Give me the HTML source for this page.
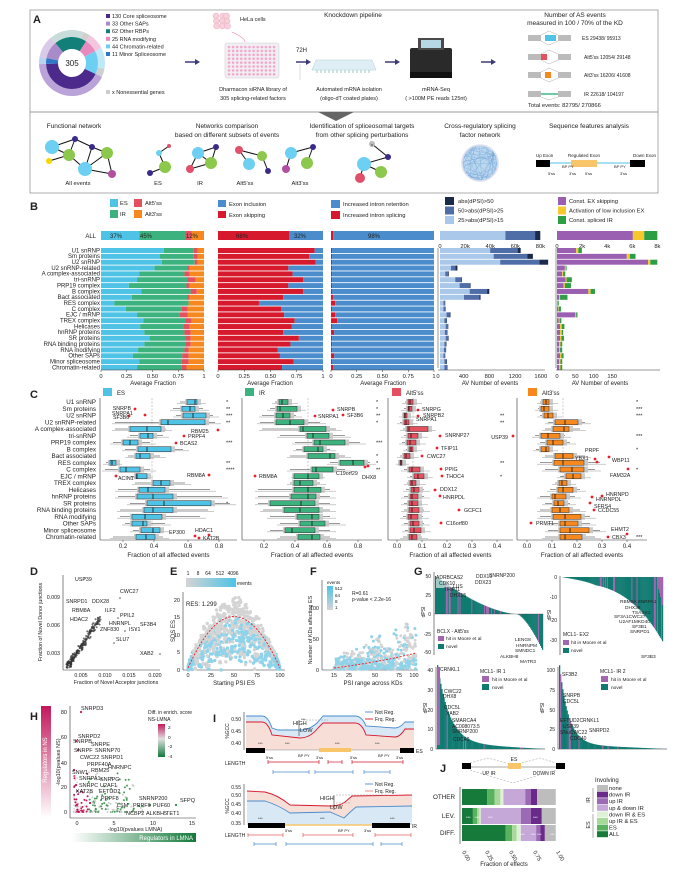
<!DOCTYPE html>
<html><head><meta charset="utf-8"><style>
html,body{margin:0;padding:0;background:#fff;}
svg{display:block;font-family:"Liberation Sans",sans-serif;}
</style></head><body>
<svg id="s" width="676" height="878" viewBox="0 0 676 878" xmlns="http://www.w3.org/2000/svg">
<rect width="676" height="878" fill="#fff"/>
<defs>
<linearGradient id="gE" x1="0" x2="1"><stop offset="0" stop-color="#d4d4d4"/><stop offset="1" stop-color="#4ec3e6"/></linearGradient>
<linearGradient id="gF" x1="0" x2="0" y1="0" y2="1"><stop offset="0" stop-color="#4ec3e6"/><stop offset="1" stop-color="#d4d4d4"/></linearGradient>
<linearGradient id="gH" x1="0" x2="0" y1="0" y2="1"><stop offset="0" stop-color="#c2185b"/><stop offset="1" stop-color="#fff"/></linearGradient>
<linearGradient id="gL" x1="0" x2="1"><stop offset="0" stop-color="#fff"/><stop offset="1" stop-color="#137a3a"/></linearGradient>
<linearGradient id="gC" x1="0" x2="0" y1="0" y2="1"><stop offset="0" stop-color="#c2185b"/><stop offset="0.45" stop-color="#e0e0e0"/><stop offset="1" stop-color="#137a3a"/></linearGradient>
</defs>
</svg>
<script>
const ns="http://www.w3.org/2000/svg",S=document.getElementById('s');
function E(t,a,txt){const e=document.createElementNS(ns,t);for(const k in a)e.setAttribute(k,a[k]);if(txt!=null)e.textContent=txt;S.appendChild(e);return e;}
function R(x,y,w,h,f,o){return E('rect',Object.assign({x,y,width:w,height:h,fill:f},o||{}));}
function L(x1,y1,x2,y2,c,w,o){return E('line',Object.assign({x1,y1,x2,y2,stroke:c||'#333','stroke-width':w||0.6},o||{}));}
function T(x,y,s,fs,o){return E('text',Object.assign({x,y,'font-size':fs||6,fill:'#222'},o||{}),s);}
function C(cx,cy,r,f,o){return E('circle',Object.assign({cx,cy,r,fill:f},o||{}));}
function P(d,o){return E('path',Object.assign({d},o||{}));}
let seed=7;function rnd(){seed=(seed*16807)%2147483647;return seed/2147483647;}

/* ---------- Panel A ---------- */
R(30,10,628,102,'none',{stroke:'#999','stroke-width':0.8});
R(30,112,628,81,'none',{stroke:'#999','stroke-width':0.8});
P('M318 112 L354 112 L336 121 Z',{fill:'#666'});
T(33,23,'A',11,{'font-weight':'bold'});
function arc(cx,cy,r1,r2,a1,a2,f){const q=(r,a)=>[cx+r*Math.cos((a-90)*Math.PI/180),cy+r*Math.sin((a-90)*Math.PI/180)];
const [x1,y1]=q(r2,a1),[x2,y2]=q(r2,a2),[x3,y3]=q(r1,a2),[x4,y4]=q(r1,a1);const lg=(a2-a1)>180?1:0;
P(`M${x1} ${y1} A${r2} ${r2} 0 ${lg} 1 ${x2} ${y2} L${x3} ${y3} A${r1} ${r1} 0 ${lg} 0 ${x4} ${y4} Z`,{fill:f});}
const seg=[['#127f78',-40,33],['#e88ac0',33,63],['#6dd0f2',63,115],['#4b2a8c',115,268],['#2f78c8',268,281],['#a98bc9',281,320]];
const segO=[['#c8dcd9',-40,20],['#d0d0d0',20,33],['#f4c6de',33,63],['#bfe8f8',63,100],['#d0d0d0',100,115],['#b9a3d8',115,268],['#bcd1ee',268,281],['#d9cbe8',281,320]];
segO.forEach(s=>arc(72,63,26,33,s[1],s[2],s[0]));
seg.forEach(s=>arc(72,63,14,26,s[1],s[2],s[0]));
T(72,66,'305',8,{'text-anchor':'middle'});
[['#4b2a8c','130 Core spliceosome'],['#a98bc9','33 Other SAPs'],['#127f78','62 Other RBPs'],['#e88ac0','25 RNA modifying'],['#6dd0f2','44 Chromatin-related'],['#2f78c8','11 Minor Spliceosome']].forEach((d,i)=>{R(106,14+i*7.6,4,4,d[0]);T(112,18+i*7.6,d[1],5.5);});
R(106,90,4,4,'#ccc');T(112,94,'x Nonessential genes',5.5);
for(let i=0;i<9;i++)C(216+(i%3)*5+rnd()*2,16+Math.floor(i/3)*5,3,'#f7d0dc',{stroke:'#e89ab2','stroke-width':0.4});
T(240,21,'HeLa cells',5.5);
P('M232 32 Q245 38 245 42',{fill:'none',stroke:'#e8789a','stroke-width':0.6});
R(225,43,54,35,'#f1eef5',{stroke:'#ccc','stroke-width':0.5,rx:2});
for(let r=0;r<8;r++)for(let c=0;c<12;c++)C(229+c*4.1,47+r*3.9,1.3,'#f4a9c8');
T(253,91,'Dharmacon siRNA library of',5.5,{'text-anchor':'middle'});T(253,100,'305  splicing-related factors',5.5,{'text-anchor':'middle'});
function arrow(x,y){P(`M${x} ${y-0.8} L${x+10} ${y-0.8} L${x+10} ${y-3} L${x+15} ${y} L${x+10} ${y+3} L${x+10} ${y+0.8} L${x} ${y+0.8} Z`,{fill:'#3b3a78'});}
arrow(185,62);arrow(296,62);arrow(385,62);arrow(481,62);
T(296,52,'72H',6);L(300,64,300,80,'#aaa',0.4);
T(353,17,'Knockdown  pipeline',6.5,{'text-anchor':'middle'});
P('M316 60 L372 60 L376 70 L312 70 Z',{fill:'#dfeef5',stroke:'#9cc','stroke-width':0.4});
for(let c=0;c<14;c++)L(317+c*4,70,317+c*4,73,'#8bb',0.8);
T(349,91,'Automated mRNA isolation',5.5,{'text-anchor':'middle'});T(349,100,'(oligo-dT coated plates)',5.5,{'text-anchor':'middle'});
R(410,48,42,30,'#2a2a2a',{rx:2});R(418,38,26,12,'#4a4a4a');R(421,40,20,8,'#b8d7e6');R(410,72,42,6,'#111');
T(436,91,'mRNA-Seq',5.5,{'text-anchor':'middle'});T(436,100,'( >100M PE reads 125nt)',5.5,{'text-anchor':'middle'});
T(575,17,'Number of AS events',6.5,{'text-anchor':'middle'});T(575,25,'measured in 100 / 70% of the KD',6.5,{'text-anchor':'middle'});
function ev(y,col,type){R(528,y-3,13,6,'#bbb');R(558,y-3,13,6,'#bbb');
 if(type=='IR'){L(541,y,558,y,'#3cb88a',1.5);P(`M541 ${y+3} L549 ${y+6} L558 ${y+3}`,{fill:'none',stroke:'#999','stroke-width':0.4});}
 else{const a=type=='ES'?545:541;R(a+(type=='3'?4:0),y-3,type=='ES'?11:6,6,col);
 P(`M541 ${y-3} L549 ${y-7} L558 ${y-3}`,{fill:'none',stroke:'#999','stroke-width':0.4});P(`M541 ${y+3} L549 ${y+7} L558 ${y+3}`,{fill:'none',stroke:'#999','stroke-width':0.4});}}
ev(38,'#4ec3e6','ES');ev(57,'#e5505f','5');ev(75,'#f5891f','3');ev(94,'#3cb88a','IR');
T(582,40,'ES  29438/ 95913',5);T(584,59,"Alt5'ss 12054/ 29148",5);T(584,77,"Alt3'ss 16206/ 41608",5);T(584,96,'IR  22618/ 104197',5);
T(528,107,'Total events:     82795/ 270866',5.8);
T(74,128,'Functional network',6.5,{'text-anchor':'middle'});
T(227,128,'Networks comparison',6.5,{'text-anchor':'middle'});T(227,137,'based on different subsets of events',6.5,{'text-anchor':'middle'});
T(362,128,'Identification of spliceosomal targets',6.5,{'text-anchor':'middle'});T(362,137,'from other splicing perturbations',6.5,{'text-anchor':'middle'});
T(480,128,'Cross-regulatory splicing',6.5,{'text-anchor':'middle'});T(480,137,'factor network',6.5,{'text-anchor':'middle'});
T(589,128,'Sequence features analysis',6.5,{'text-anchor':'middle'});
const B='#6dd0f2',G='#8cc84b',N='#3b2a8c',Rd='#e0506a',Pu='#b14fa0';
function net(nodes,edges){edges.forEach(e=>L(nodes[e[0]][0],nodes[e[0]][1],nodes[e[1]][0],nodes[e[1]][1],'#111',1));nodes.forEach(n=>C(n[0],n[1],n[2],n[3]));}
net([[52,147,7,B],[75,139,3,N],[92,147,3,N],[69,155,6,G],[107,153,6,G],[49,161,3,'#f5d800'],[85,169,7,B],[112,174,4,Pu]],[[0,1],[1,2],[0,3],[3,5],[2,4],[2,6],[3,6],[4,6],[6,7],[4,7],[1,3]]);
T(78,185,'All events',5.8,{'text-anchor':'middle'});
net([[150,173,3,N],[159,153,3,B],[169,146,2,Rd],[165,167,6,G]],[[0,3],[1,3],[1,2]]);T(158,185,'ES',5.8,{'text-anchor':'middle'});
net([[198,153,6,B],[216,147,3,N],[190,169,4,Rd],[211,163,6,G]],[[0,1],[1,3],[0,3],[2,3],[0,2]]);T(200,185,'IR',5.8,{'text-anchor':'middle'});
net([[239,150,4,Rd],[249,164,6,B],[262,156,5,G],[268,171,3,N]],[[0,2],[2,3],[0,1]]);T(245,185,"Alt5'ss",5.8,{'text-anchor':'middle'});
net([[291,153,6,B],[313,147,3,N],[307,163,6,G],[286,169,4,Pu]],[[0,1],[1,2],[0,3]]);T(300,185,"Alt3'ss",5.8,{'text-anchor':'middle'});
net([[372,144,3,'#bbb'],[388,157,3,N],[364,164,7,B],[381,172,6,G],[360,178,5,Rd]],[[0,1],[1,2],[2,3],[2,4]]);T(372,146,'x',4,{'text-anchor':'middle'});
C(480,163,18,'#bcd8ef',{stroke:'#dde','stroke-width':1.5});
for(let i=0;i<60;i++){const a=rnd()*6.28,b=rnd()*6.28;L(480+17*Math.cos(a),163+17*Math.sin(a),480+17*Math.cos(b),163+17*Math.sin(b),'#6a9fd4',0.25);}
L(550,163,630,163,'#4ec3e6',1);R(536,160,14,7,'#000');R(630,160,15,7,'#000');R(571,160,26,7,'#f8c56a');
T(536,157,'Up Exon',4.5);T(584,157,'Regulated Exon',4.5,{'text-anchor':'middle'});T(633,157,'Down Exon',4.5);
T(548,175,"5'ss",4);T(562,168,'BP PY',4);T(569,175,"3'ss",4);T(585,175,"5'ss",4);T(614,168,'BP PY',4);T(620,175,"3'ss",4);

/* ---------- Panel B ---------- */
T(30,210,'B',11,{'font-weight':'bold'});
R(110,199,8,8,'#4ec3e6');T(120,205,'ES',5.8);R(134,199,8,8,'#e5505f');T(145,205,"Alt5'ss",5.8);
R(110,210,8,8,'#3cb37e');T(120,216,'IR',5.8);R(134,210,8,8,'#f5891f');T(145,216,"Alt3'ss",5.8);
R(218,200,8,7,'#4a8ccc');T(229,206,'Exon inclusion',5.8);R(218,211,8,7,'#d7192d');T(229,217,'Exon skipping',5.8);
R(331,200,9,8,'#4a8ccc');T(343,206,'Increased intron retention',5.8);R(331,211,9,8,'#d7192d');T(343,217,'Increased intron splicing',5.8);
[['#1c2a4a','abs(dPSI)>50'],['#4f6ea8','50>abs(dPSI)>25'],['#a9c8ea','25>abs(dPSI)>15']].forEach((d,i)=>{R(445,197+i*9.5,9,8,d[0]);T(458,203+i*9.5,d[1],5.8);});
[['#9a5fb0','Const. EX skipping'],['#f7c82b','Activation of low inclusion EX'],['#2e9e44','Const. spliced IR']].forEach((d,i)=>{R(558,197+i*9.5,8,8,d[0]);T(569,203+i*9.5,d[1],5.8);});
const cats=['U1 snRNP','Sm proteins','U2 snRNP','U2 snRNP-related','A complex-associated','tri-snRNP','PRP19 complex','B complex','Bact associated','RES complex','C complex','EJC / mRNP','TREX complex','Helicases','hnRNP proteins','SR proteins','RNA binding proteins','RNA modifying','Other SAPs','Minor spliceosome','Chromatin-related'];
const ry=i=>248+i*5.85;
T(96,238,'ALL',6,{'text-anchor':'end'});
cats.forEach((c,i)=>T(100,ry(i)+4.3,c,6,{'text-anchor':'end'}));
const c1=[[.61,.90,.94],[.57,.90,.94],[.59,.91,.94],[.52,.84,.86],[.37,.81,.86],[.35,.84,.92],[.27,.83,.86],[.39,.87,.93],[.30,.84,.86],[.13,.85,.85],[.24,.78,.84],[.35,.76,.84],[.41,.82,.88],[.38,.80,.86],[.42,.81,.87],[.47,.82,.87],[.42,.82,.87],[.36,.81,.85],[.31,.79,.85],[.37,.78,.85],[.35,.78,.83]];
const x1=101,w1=103;
function stack(x,y,h,segs){let cx=x;segs.forEach(s=>{R(cx,y,s[0],h,s[1]);cx+=s[0];});}
stack(x1,231,9,[[.37*w1,'#4ec3e6'],[.45*w1,'#3cb37e'],[.06*w1,'#e5505f'],[.12*w1,'#f5891f']]);
T(110,238,'37%',6);T(140,238,'45%',6);T(186,238,'12%',6);
c1.forEach((d,i)=>stack(x1,ry(i),5,[[d[0]*w1,'#4ec3e6'],[(d[1]-d[0])*w1,'#3cb37e'],[(d[2]-d[1])*w1,'#e5505f'],[(1-d[2])*w1,'#f5891f']]));
const c2=[.92,.87,.93,.67,.71,.81,.67,.81,.62,.39,.60,.63,.73,.70,.62,.77,.69,.57,.59,.72,.61];
const x2=218,w2=105;
stack(x2,231,9,[[.68*w2,'#d7192d'],[.32*w2,'#4a8ccc']]);T(236,238,'68%',6);T(294,238,'32%',6);
c2.forEach((v,i)=>stack(x2,ry(i),5,[[v*w2,'#d7192d'],[(1-v)*w2,'#4a8ccc']]));
const c3=[.01,.01,.01,.01,.01,.01,.01,.01,.02,.04,.01,.04,.06,.01,.03,.01,.01,.01,.03,.01,.02];
const x3=331,w3=103;
stack(x3,231,9,[[.02*w3,'#d7192d'],[.98*w3,'#4a8ccc']]);T(368,238,'98%',6);
c3.forEach((v,i)=>stack(x3,ry(i),5,[[v*w3,'#d7192d'],[(1-v)*w3,'#4a8ccc']]));
[101,218,331].forEach((x,j)=>{L(x,370,x+(j==1?105:103),370,'#333',0.5);[0,.25,.5,.75,1].forEach((t,k)=>{const xx=x+t*(j==1?105:103);L(xx,370,xx,372,'#333',0.5);T(xx,378,['0','0.25','0.50','0.75','1'][k],5.8,{'text-anchor':'middle'});});T(x+52,385,'Average Fraction',6,{'text-anchor':'middle'});});
const k=1/2.293;
stack(440,231,9,[[(1160-1010)*k,'#a9c8ea'],[(1228-1160)*k,'#4f6ea8'],[(1240-1228)*k,'#1c2a4a']]);
['0','20k','40k','60k','80k'].forEach((s,i)=>T(440+i*25.1,248,s,5.8,{'text-anchor':'middle'}));
const c4=[[1120,1183,1190],[1128,1205,1218],[1143,1233,1253],[1030,1040,1045],[1017,1023,1025],[1040,1053,1055],[1050,1073,1075],[1073,1113,1118],[1060,1095,1098],[1013,1016,1017],[1013,1017,1018],[1020,1027,1029],[1015,1020,1021],[1018,1023,1024],[1016,1021,1022],[1018,1024,1025],[1015,1019,1020],[1014,1018,1019],[1013,1016,1017],[1015,1020,1021],[1015,1021,1022]];
c4.forEach((d,i)=>stack(440,ry(i),5,[[(d[0]-1005)*k,'#a9c8ea'],[(d[1]-d[0])*k,'#4f6ea8'],[(d[2]-d[1])*k,'#1c2a4a']]));
L(438,248,438,368,'#333',0.5);L(438,370,545,370,'#333',0.5);
['0','400','800','1200','1600'].forEach((s,i)=>T(438+i*25.7,378,s,5.8,{'text-anchor':'middle'}));T(490,385,'AV Number of events',6,{'text-anchor':'middle'});
stack(557,231,9,[[(1452-1278)*k,'#9a5fb0'],[(1478-1452)*k,'#f7c82b'],[(1508-1478)*k,'#2e9e44']]);
['0','2k','4k','6k','8k'].forEach((s,i)=>T(557+i*25.1,248,s,5.8,{'text-anchor':'middle'}));
const c5=[[1322,1327,1335],[1438,1445,1458],[1487,1492,1508],[1296,1298,1300],[1290,1292,1297],[1298,1300,1312],[1293,1296,1310],[1350,1355,1365],[1283,1285,1302],[1279,1280,1282],[1281,1282,1287],[1320,1322,1325],[1282,1284,1288],[1285,1289,1295],[1285,1289,1292],[1285,1288,1294],[1283,1286,1290],[1283,1285,1290],[1285,1288,1293],[1283,1286,1290],[1283,1286,1290]];
c5.forEach((d,i)=>stack(557,ry(i),5,[[(d[0]-1278)*k,'#9a5fb0'],[(d[1]-d[0])*k,'#f7c82b'],[(d[2]-d[1])*k,'#2e9e44']]));
L(556,248,556,368,'#333',0.5);L(556,370,660,370,'#333',0.5);
['0','50','100','150'].forEach((s,i)=>T(557+i*18.4,378,s,5.8,{'text-anchor':'middle'}));T(600,385,'AV Number of events',6,{'text-anchor':'middle'});

/* ---------- Panel C ---------- */
T(30,398,'C',11,{'font-weight':'bold'});
R(103,388,9,8,'#4ec3e6');T(117,395,'ES',6);R(245,388,9,8,'#3cb37e');T(259,395,'IR',6);
R(392,388,9,8,'#e5505f');T(406,395,"Alt5'ss",6);R(528,388,9,8,'#f5891f');T(542,395,"Alt3'ss",6);
const cy=i=>402+i*6.75;
cats.forEach((c,i)=>T(96,cy(i)+2,c,6.3,{'text-anchor':'end'}));
function bxp(data,col,ax,right,dash,ticks){L(ax,398,ax,540,'#333',0.6);L(ax,540,right,540,'#333',0.6);
 L(dash,398,dash,540,'#999',0.5,{'stroke-dasharray':'2,1.5'});
 ticks.forEach(t=>{L(t[0],540,t[0],542,'#333',0.5);T(t[0],548,t[1],6,{'text-anchor':'middle'});});
 T((ax+right)/2,557,'Fraction of all affected events',6.3,{'text-anchor':'middle'});
 data.forEach((d,i)=>{const y=cy(i);L(d[3],y,d[4],y,'#333',0.5);R(d[0]-2,y-3,d[1]-d[0]+6,6,'#ccc');L(d[3]-3,y+1.5,d[4]+6,y+1.5,'#bbb',0.8);
 R(d[0],y-2.5,d[1]-d[0],5,col,{stroke:'#333','stroke-width':0.5});L(d[2],y-2.5,d[2],y+2.5,'#111',0.8);});}
const e1=[[187,197,195,180,200],[182,195,190,173,203],[183,206,193,176,213],[161,205,168,115,215],[130,161,147,115,166],[140,153,148,130,163],[123,138,130,113,150],[138,171,147,125,183],[136,150,140,128,160],[110,116,112,106,116],[120,140,126,105,150],[136,147,137,131,147],[153,170,161,135,185],[139,165,148,118,210],[137,173,153,118,222],[147,211,164,130,230],[144,173,153,120,208],[132,162,145,120,200],[132,147,143,125,165],[141,160,153,133,163],[136,155,146,113,163]];
bxp(e1,'#4ec3e6',100,237,152,[[123,'0.2'],[154,'0.4'],[188,'0.6'],[219,'0.8']]);
const e2=[[279,288,282,275,292],[277,297,280,270,300],[276,290,283,262,296],[276,304,290,260,320],[300,326,303,262,336],[307,329,313,280,345],[314,345,320,295,360],[304,323,318,296,330],[308,335,330,290,345],[340,364,353,330,370],[312,333,316,290,345],[294,319,308,294,319],[294,313,300,290,320],[294,321,308,258,330],[291,316,308,258,330],[270,315,301,258,330],[284,319,300,263,330],[297,319,312,270,330],[300,325,312,280,340],[285,315,292,270,330],[298,320,312,280,330]];
bxp(e2,'#3cb37e',242,382,308,[[264,'0.2'],[295,'0.4'],[327,'0.6'],[358,'0.8']]);
const e3=[[408,413,410,405,416],[408,412,409,404,416],[404,407,405,402,410],[404,409,406,400,412],[407,428,409,403,430],[408,418,411,404,422],[407,416,410,402,420],[409,413,411,406,416],[404,410,406,400,413],[400,402,401,399,403],[409,420,412,404,424],[414,424,418,410,427],[410,416,412,407,420],[411,419,414,406,424],[410,418,412,404,424],[409,418,412,404,422],[409,419,412,404,424],[408,418,411,403,423],[410,419,413,404,424],[410,421,414,405,425],[409,417,412,403,422]];
bxp(e3,'#e5505f',388,513,413,[[397,'0.0'],[422,'0.1'],[447,'0.2'],[472,'0.3'],[497,'0.4']]);
const e4=[[543,549,546,540,552],[541,549,544,538,552],[544,553,548,540,556],[555,578,565,548,585],[553,569,564,545,580],[541,560,548,535,565],[547,563,553,540,570],[541,549,546,536,552],[555,573,563,545,585],[554,584,563,540,600],[560,584,572,545,595],[566,581,573,560,585],[559,567,562,555,570],[558,573,563,550,580],[552,566,555,540,575],[554,564,558,545,570],[552,569,560,540,580],[553,581,565,540,590],[560,578,565,548,590],[560,589,570,548,600],[560,582,565,545,595]];
bxp(e4,'#f5891f',517,647,563,[[527,'0.0'],[552,'0.1'],[577,'0.2'],[602,'0.3'],[627,'0.4']]);
function dot(x,y){C(x,y,1.4,'#e8202a');}
function lab(x,y,s,a){T(x,y,s,5.3,{'text-anchor':a||'start'});}
dot(135,409);lab(131,410,'SNRPB','end');dot(129,416);dot(145,415);lab(112,415,'SNRPA1');lab(113,419,'SF3B6');
dot(218,430);lab(191,433,'RBM25');dot(184,436);lab(188,438,'PRPF4');dot(176,443);lab(180,445,'BCAS2');
dot(116,476);lab(118,480,'ACIN1');dot(209,475);lab(187,477,'RBM8A');
dot(195,536);lab(169,534,'EP300');dot(209,535);lab(195,532,'HDAC1');dot(199,538);lab(203,540,'KAT2B');
[[0,'*'],[1,'**'],[2,'***'],[3,'**'],[6,'***'],[9,'**'],[10,'****'],[15,'*']].forEach(s=>T(226,cy(s[0])+2,s[1],5.5));
dot(333,410);lab(337,411,'SNRPB');dot(315,416);lab(318,418,'SNRPA1');dot(343,415);lab(347,417,'SF3B6');
dot(255,476);lab(259,478,'RBM8A');dot(365,467);dot(368,466);lab(336,475,'C19orf29');lab(362,479,'DHX8');
[[0,'*'],[1,'*'],[2,'**'],[3,'*'],[6,'***'],[8,'*'],[9,'*'],[10,'**']].forEach(s=>T(376,cy(s[0])+2,s[1],5.5));
dot(418,410);lab(422,411,'SNRPG');dot(418,416);lab(423,417,'SNRPB2');lab(416,421,'SNRPA1');dot(440,436);lab(445,437,'SNRNP27');
dot(437,448);lab(441,450,'TFIP11');dot(422,456);lab(427,458,'CWC27');dot(441,469);lab(445,471,'PPIG');dot(442,476);lab(446,478,'THOC4');
dot(435,490);lab(440,491,'DDX12');dot(440,496);lab(443,499,'HNRPDL');dot(459,510);lab(464,512,'GCFC1');dot(441,523);lab(446,525,'C16orf80');
[[2,'**'],[3,'**'],[9,'**'],[11,'*']].forEach(s=>T(500,cy(s[0])+2,s[1],5.5));
dot(513,436);lab(508,439,'USP39','end');lab(585,452,'PRPF');lab(575,460,'YBX1');dot(595,459);dot(597,462);dot(609,457);lab(612,462,'WBP11');
dot(628,469);lab(610,477,'FAM32A');dot(602,496);lab(606,496,'HNRNPD');dot(592,497);lab(596,501,'HNRNPDL');dot(590,503);lab(594,508,'SFRS4');
dot(594,510);lab(598,512,'CCDC55');dot(531,523);lab(536,525,'PRMT1');lab(611,531,'EHMT2');dot(627,534);dot(608,537);lab(612,539,'CBX3');
[[0,'*'],[1,'***'],[2,'***'],[5,'***'],[7,'*'],[10,'*'],[20,'***']].forEach(s=>T(636,cy(s[0])+2,s[1],5.5));

/* ---------- Panel D ---------- */
T(30,575,'D',11,{'font-weight':'bold'});
L(63,575,63,670,'#333',0.6);L(63,670,160,670,'#333',0.6);
[[597,'0.009'],[625,'0.006'],[653,'0.003']].forEach(t=>T(60,t[0]+2,t[1],5.3,{'text-anchor':'end'}));
[[81,'0.005'],[105,'0.010'],[129,'0.015'],[155,'0.020']].forEach(t=>T(t[0],677,t[1],5.3,{'text-anchor':'middle'}));
T(116,684,'Fraction of Novel Acceptor junctions',5.3,{'text-anchor':'middle'});
T(42,622,'Fraction of Novel Donor junctions',5.3,{'text-anchor':'middle',transform:'rotate(-90 42 622)'});
for(let i=0;i<220;i++){const t=Math.pow(rnd(),2);const x=66+t*32+rnd()*5,y=668-t*48-rnd()*6;C(x,y,1,'#333',{opacity:0.7});}
[[75,581,'USP39'],[120,593,'CWC27'],[66,603,'SNRPD1'],[92,603,'DDX28'],[72,612,'RBM8A'],[105,612,'ILF2'],[120,617,'PPIL2'],[70,621,'HDAC2'],[109,625,'HNRNPL'],[140,626,'SF3B4'],[100,631,'ZNF830'],[129,631,'ISY1'],[116,641,'SLU7'],[140,655,'XAB2']].forEach(d=>lab(d[0],d[1],d[2]));
[[85,578],[120,598],[118,618],[136,630],[125,631],[114,643],[160,654]].forEach(p=>C(p[0],p[1],0.8,'#555'));

/* ---------- Panel E ---------- */
T(170,575,'E',11,{'font-weight':'bold'});
[['1',188],['8',198],['64',208],['512',220],['4096',233]].forEach(d=>T(d[1],575,d[0],5,{'text-anchor':'middle'}));
R(186,578,50,9,'url(#gE)');T(237,585,'events',5);
L(183,592,183,670,'#333',0.6);L(183,670,285,670,'#333',0.6);
[[600,'20'],[617,'15'],[635,'10'],[652,'5'],[670,'0']].forEach(t=>T(180,t[0]+2,t[1],5.5,{'text-anchor':'end'}));
[[188,'0'],[211,'25'],[234,'50'],[257,'75'],[280,'100']].forEach(t=>T(t[0],677,t[1],5.5,{'text-anchor':'middle'}));
T(234,685,'Starting PSI ES',6,{'text-anchor':'middle'});T(175,631,'SDS ES',6,{'text-anchor':'middle',transform:'rotate(-90 175 631)'});
for(let i=0;i<900;i++){const x=188+rnd()*92;const u=(x-188)/92;const top=670-4*62*u*(1-u)*(0.75+rnd()*0.4)-rnd()*6;const y=670-Math.sqrt(rnd())*(670-top);
 const c=u<0.05||u>0.95||(670-y)<(670-top)*0.75&&rnd()<0.7?'#8fd3ea':'#d4d4d4';C(x,y,1.7,c);}
P('M188 668 Q234 565 280 668',{fill:'none',stroke:'#e8202a','stroke-width':0.9,'stroke-dasharray':'2,1.5'});
T(186,606,'RES: 1.299',6);

/* ---------- Panel F ---------- */
T(310,575,'F',11,{'font-weight':'bold'});
T(327,584,'events',4.5);R(327,586,6,24,'url(#gF)');[['512',590],['64',597],['8',603],['1',609]].forEach(d=>T(335,d[1],d[0],4.5));
L(322,580,322,670,'#333',0.6);L(322,670,418,670,'#333',0.6);
[[608,'100'],[639,'50'],[670,'0']].forEach(t=>T(319,t[0]+2,t[1],5.5,{'text-anchor':'end'}));
[[334,'15'],[349,'25'],[375,'50'],[399,'75'],[414,'100']].forEach(t=>T(t[0],677,t[1],5.5,{'text-anchor':'middle'}));
T(373,685,'PSI range across KDs',6,{'text-anchor':'middle'});T(312,630,'Number of KDs affecting ES',5.5,{'text-anchor':'middle',transform:'rotate(-90 312 630)'});
T(352,595,'R=0.61',5);T(352,601,'p-value < 2.2e-16',5);
for(let i=0;i<550;i++){const x=334+rnd()*82;const u=(x-334)/82;const y=669-rnd()*rnd()*(12+u*50);C(x,y,1.5,(669-y)<10&&rnd()<0.75?'#8fd3ea':(rnd()<0.35?'#8fd3ea':'#d4d4d4'));}
P('M334 668 Q380 662 416 653',{fill:'none',stroke:'#e8202a','stroke-width':0.9,'stroke-dasharray':'2,1.5'});

/* ---------- Panel G ---------- */
T(414,575,'G',11,{'font-weight':'bold'});
function bars(x0,x1,y0,scale,n,fn,pp){for(let i=0;i<n;i++){const v=fn(i/n);const x=x0+(x1-x0)*i/n;const w=(x1-x0)/n+0.2;const col=rnd()<pp?'#a365b0':'#0f7a70';
 if(v>=0)R(x,y0-v*scale,w,v*scale,col);else R(x,y0,w,-v*scale,col);}}
L(434,572,434,655,'#333',0.6);[[576,'50'],[595,'25'],[614,'0'],[634,'-25'],[652,'-50']].forEach(t=>T(431,t[0]+2,t[1],5,{'text-anchor':'end'}));
bars(435,543,614,0.76,110,u=>u<0.75?50*Math.pow(1-u/0.75,1.6):-50*Math.pow((u-0.75)/0.25,1.5),0.12);
L(434,614,543,614,'#333',0.3);
T(425,612,'dPSI',5,{transform:'rotate(-90 425 612)','text-anchor':'middle'});
R(435,627,70,28,'#fff',{opacity:0.85});T(437,633,"BCLX - Alt5'ss",5);R(438,636,6,5,'#a365b0');T(446,640,'hit in Moore et al',4.8);R(438,644,6,5,'#0f7a70');T(446,648,'novel',4.8);
R(436,574,80,14,'#fff',{opacity:0.6});
[[436,579,'ADRBCAS2'],[476,578,'DDX10'],[489,577,'SNRNP200'],[439,585,'CDK10'],[475,584,'DDX23'],[453,588,'LUS'],[444,591,'TFIP11'],[450,597,'DHX15']].forEach(d=>T(d[0],d[1],d[2],5));
[[515,641,'LENG8'],[516,647,'HNRNPM'],[515,652,'SMNDC1'],[500,658,'ALKBH8'],[520,663,'MATR3']].forEach(d=>T(d[0],d[1],d[2],4.8));
L(560,576,560,655,'#333',0.6);[[577,'0'],[597,'-10'],[620,'-20'],[640,'-30']].forEach(t=>T(557,t[0]+2,t[1],5,{'text-anchor':'end'}));
bars(561,663,577,2.0,100,u=>-(3+30*Math.pow(u,3))*Math.min(1,u*3),0.12);
for(let i=0;i<6;i++)R(657+i,577,1,8+i*4,'#a365b0');
T(551,615,'dPSI',5,{transform:'rotate(-90 551 615)','text-anchor':'middle'});
T(563,636,'MCL1- EX2',5);R(563,640,6,5,'#a365b0');T(571,644,'hit in Moore et al',4.8);R(563,648,6,5,'#0f7a70');T(571,652,'novel',4.8);
[[620,603,'RBM8A SNRPA1'],[625,609,'DHX38'],[632,614,'TSASS1'],[614,618,'SF3A1CWC27'],[619,623,'U2AF1MKD40'],[632,628,'SF3B1'],[630,633,'SNRPD1'],[641,658,'SF3B3']].forEach(d=>T(d[0],d[1],d[2],4.8));
L(436,667,436,749,'#333',0.6);L(436,749,545,749,'#333',0.6);[[670,'40'],[690,'30'],[710,'20'],[729,'10'],[749,'0']].forEach(t=>T(433,t[0]+2,t[1],5,{'text-anchor':'end'}));
bars(437,545,749,1.95,100,u=>40*Math.exp(-u*9)+3*(1-u),0.1);
R(437,667,3,78,'#a365b0');
T(427,708,'dPSI',5,{transform:'rotate(-90 427 708)','text-anchor':'middle'});
T(480,673,'MCL1- IR 1',5);R(482,676,7,6,'#a365b0');T(492,681,'hit in Moore et al',4.8);R(482,684,7,6,'#0f7a70');T(492,689,'novel',4.8);
[[440,671,'CRNKL1'],[444,693,'CWC22'],[443,698,'DHX8'],[444,709,'CDC5L'],[446,715,'XAB2'],[452,722,'SMARCA4'],[452,728,'AC008073.5'],[452,733,'SNRNP200'],[453,741,'CDC40']].forEach(d=>T(d[0],d[1],d[2],5));
L(558,667,558,749,'#333',0.6);L(558,749,667,749,'#333',0.6);[[670,'100'],[690,'75'],[710,'50'],[729,'25'],[749,'0']].forEach(t=>T(555,t[0]+2,t[1],5,{'text-anchor':'end'}));
bars(559,667,749,0.79,100,u=>100*Math.exp(-u*12)+6*(1-u),0.1);
T(544,708,'dPSI',5,{transform:'rotate(-90 544 708)','text-anchor':'middle'});
T(600,673,'MCL1- IR 2',5);R(601,676,7,6,'#a365b0');T(611,681,'hit in Moore et al',4.8);R(601,684,7,6,'#0f7a70');T(611,689,'novel',4.8);
[[562,676,'SF3B2'],[563,697,'SNRPB'],[563,703,'CDC5L'],[560,722,'EFTUD2CRNKL1'],[563,728,'USP39'],[560,734,'SNuCWC22'],[570,740,'CDC40'],[589,732,'SNRPD2']].forEach(d=>T(d[0],d[1],d[2],5));

/* ---------- Panel H ---------- */
T(30,720,'H',11,{'font-weight':'bold'});
R(41,706,10,112,'url(#gH)');T(47,760,'Regulators in NS',6,{fill:'#fff',transform:'rotate(-90 47 760)','text-anchor':'middle'});
L(70,706,70,818,'#333',0.6);L(70,818,196,818,'#333',0.6);
[[712,'80'],[737,'60'],[763,'40'],[787,'20'],[812,'0']].forEach(t=>T(67,t[0]+2,t[1],5.5,{'text-anchor':'end'}));
[[77,'0'],[114,'5'],[153,'10'],[192,'15']].forEach(t=>T(t[0],825,t[1],5.5,{'text-anchor':'middle'}));
T(135,831,'-log10(pvalues LMNA)',5.5,{'text-anchor':'middle'});T(60,762,'-log10(pvalues NS)',5.5,{transform:'rotate(-90 60 762)','text-anchor':'middle'});
R(72,833,124,9,'url(#gL)');T(193,840,'Regulators in LMNA',6,{fill:'#fff','text-anchor':'end'});
for(let i=0;i<200;i++){const x=74+Math.pow(rnd(),2)*70;const y=812-Math.pow(rnd(),3)*40;const c=x<88?(rnd()<0.6?'#c2185b':'#ddd'):(rnd()<0.5?'#4a9a5a':'#ccc');C(x,y,1,c);}
[[81,712],[76,741],[78,750],[74,770],[76,785],[90,803],[176,805],[150,805]].forEach(p=>C(p[0],p[1],1.1,p[0]>140?'#2e8b47':'#c2185b'));
T(148,714,'Diff. in enrich. score',5);T(148,721,'NS-LMNA',5);R(158,724,7,33,'url(#gC)');
[[727,'2'],[737,'0'],[746,'-2'],[756,'-4']].forEach(t=>T(168,t[0]+2,t[1],4.8));
[[81,710,'SNRPD3'],[78,738,'SNRPD2'],[73,743,'SNRPB'],[91,746,'SNRPE'],[74,752,'SNRPF'],[95,752,'SNRNP70'],[80,759,'CWC22'],[101,759,'SNRPD1'],[87,766,'PRPF40A'],[91,772,'RBM25'],[108,769,'HNRNPC'],[72,774,'SNW1'],[79,780,'SNRPA1'],[100,781,'SNRPG'],[79,787,'SNRPC'],[100,787,'U2AF1'],[76,793,'KAT2B'],[99,793,'EFTUD2'],[101,800,'PRPF8'],[139,800,'SNRNP200'],[180,802,'SFPQ'],[117,807,'LSM'],[133,807,'PRPF6'],[153,807,'PUF60'],[126,815,'NCBP2'],[146,815,'ALKBH5'],[166,815,'TET1']].forEach(d=>T(d[0],d[1],d[2],5.5));

/* ---------- Panel I ---------- */
T(213,722,'I',11,{'font-weight':'bold'});
L(244,712,244,750,'#333',0.6);[[719,'0.50'],[731,'0.45'],[743,'0.40']].forEach(t=>T(241,t[0]+2,t[1],5,{'text-anchor':'end'}));
T(229,731,'%GCC',5,{transform:'rotate(-90 229 731)','text-anchor':'middle'});
const up='M246 716 L262 716 Q268 716 272 728 L278 730 L300 730 Q310 730 318 722 L323 716 L355 716 Q362 716 366 726 L395 728 Q400 728 405 722 L414 722';
const lo='M246 722 L262 722 Q268 722 272 735 L300 738 Q310 738 318 728 L323 723 L355 723 Q362 723 366 735 L395 737 Q400 737 405 729 L414 729';
P(up+' L414 750 L246 750 Z',{fill:'#d9e8f5'});P(lo+' L414 750 L246 750 Z',{fill:'#f7dfd8'});
P(up,{fill:'none',stroke:'#4a8ccc','stroke-width':0.9});P(lo,{fill:'none',stroke:'#d7192d','stroke-width':0.9});
L(365,712,373,712,'#4a8ccc',0.9);T(375,714,'Not Reg.',5);L(365,719,373,719,'#d7192d',0.9);T(375,721,'Frq. Reg.',5);
T(293,725,'HIGH',5.5);T(300,732,'LOW',5.5);L(299,720,299,736,'#333',0.6);L(303,720,328,720,'#999',0.5,{'stroke-dasharray':'2,1'});T(301,721,'***',4);
[[258,745],[285,745],[335,745],[375,745]].forEach(p=>T(p[0],p[1],'***',4));
L(246,750,414,750,'#888',0.6);R(246,748,19,5,'#000');R(400,748,14,5,'#000');R(319,748,32,4,'#f8c56a');T(416,753,'ES',5);
[[266,759,"5'ss"],[298,757,'BP PY'],[316,759,"3'ss"],[350,759,"5'ss"],[378,757,'BP PY'],[396,759,"3'ss"]].forEach(d=>T(d[0],d[1],d[2],4));
T(225,765,'LENGTH',5);
[[268,319],[328,342],[352,403]].forEach(s=>{L(s[0],762,s[1],762,'#d7192d',0.7);L(s[0],760,s[0],764,'#d7192d',0.7);L(s[1],760,s[1],764,'#d7192d',0.7);});
[[273,309],[315,353],[364,390]].forEach(s=>{L(s[0],772,s[1],772,'#4a8ccc',0.7);L(s[0],770,s[0],774,'#4a8ccc',0.7);L(s[1],770,s[1],774,'#4a8ccc',0.7);});
L(244,784,244,825,'#333',0.6);[[787,'0.55'],[795,'0.50'],[804,'0.45'],[813,'0.40'],[823,'0.35']].forEach(t=>T(241,t[0]+2,t[1],5,{'text-anchor':'end'}));
T(229,806,'%GCC',5,{transform:'rotate(-90 229 806)','text-anchor':'middle'});
const lr='M247 791 L265 792 Q278 795 290 805 L330 806 Q340 806 345 802 L352 796 L412 795';
const lb='M247 801 L265 801 Q278 805 290 813 L330 812 L344 818 Q350 812 356 807 L412 806';
P(lr+' L412 825 L247 825 Z',{fill:'#f7dfd8'});P(lb+' L412 825 L247 825 Z',{fill:'#d9e8f5'});
P(lr,{fill:'none',stroke:'#d7192d','stroke-width':0.9});P(lb,{fill:'none',stroke:'#4a8ccc','stroke-width':0.9});
L(365,784,373,784,'#4a8ccc',0.9);T(375,786,'Not Reg.',5);L(365,791,373,791,'#f08080',0.9);T(375,793,'Frq. Reg.',5);
T(320,800,'HIGH',5.5);T(330,809,'LOW',5.5);L(334,795,334,810,'#333',0.6);L(336,795,390,795,'#999',0.5,{'stroke-dasharray':'2,1'});L(336,803,350,803,'#999',0.5,{'stroke-dasharray':'2,1'});
[[258,820],[320,820],[390,820]].forEach(p=>T(p[0],p[1],'***',4));
R(248,823,37,5,'#000');R(372,823,38,5,'#000');L(285,825,372,825,'#f8c56a',1.5);T(412,828,'IR',5);
T(285,832,"5'ss",4);T(338,832,'BP  PY',4);T(364,832,"3'ss",4);T(225,837,'LENGTH',5);
[[248,283],[303,353],[375,411]].forEach(s=>{L(s[0],835,s[1],835,'#e06060',0.7);L(s[0],833,s[0],837,'#e06060',0.7);L(s[1],833,s[1],837,'#e06060',0.7);});
[[254,276],[286,373],[381,402]].forEach(s=>{L(s[0],844,s[1],844,'#4a8ccc',0.7);L(s[0],842,s[0],846,'#4a8ccc',0.7);L(s[1],842,s[1],846,'#4a8ccc',0.7);});

/* ---------- Panel J ---------- */
T(440,772,'J',11,{'font-weight':'bold'});
L(470,767,556,767,'#555',0.6);R(462,763,9,6,'#000');R(556,763,9,6,'#000');R(508,763,13,6,'#f8c56a');
T(514,761,'ES',5,{'text-anchor':'middle'});T(489,775,'UP IR',5,{'text-anchor':'middle'});T(544,775,'DOWN IR',5,{'text-anchor':'middle'});
P('M470 763 L488 758 L506 763 M522 763 L540 758 L556 763 M470 770 L513 783 L556 770',{fill:'none',stroke:'#999','stroke-width':0.5,'stroke-dasharray':'2,1.5'});
const jc=['#167a3a','#59b35e','#a8d89a','#dff0d8','#c5a8d8','#9b6ab5','#6a2a8a','#bdbdbd'];
const jr=[['OTHER',789,[1118,1135,1148,1155,1205,1218,1232,1275]],['LEV.',808,[1085,1095,1100,1103,1195,1218,1243,1275]],['DIFF.',825,[1160,1175,1185,1195,1230,1240,1250,1275]]];
L(460,787,460,844,'#333',0.6);
jr.forEach(r=>{let px=1060;r[2].forEach((e,i)=>{R(462+(px-1060)*k,r[1],(e-px)*k,16,jc[i]);px=e;});T(455,r[1]+10,r[0],6.3,{'text-anchor':'end'});});
[[466,819],[475,819],[488,819],[533,819],[520,836],[531,836],[537,836],[550,836]].forEach(p=>T(p[0],p[1],'***',4,{fill:'#fff'}));
[['0.00',462],['0.25',485],['0.50',509],['0.75',533],['1.00',556]].forEach(t=>T(t[1],852,t[0],5.5,{transform:`rotate(60 ${t[1]} 852)`}));
T(504,866,'Fraction of effects',6,{'text-anchor':'middle'});
T(595,782,'Involving',6);
const jl=[['#bdbdbd','none'],['#6a2a8a','down IR'],['#9b6ab5','up IR'],['#c5a8d8','up & down IR'],['#dff0d8','down IR & ES'],['#a8d89a','up IR & ES'],['#59b35e','ES'],['#167a3a','ALL']];
jl.forEach((d,i)=>{R(597,785+i*6.6,11,6,d[0]);T(609,790+i*6.6,d[1],5.8);});
T(590,800,'IR',5.5,{transform:'rotate(-90 590 800)','text-anchor':'middle'});L(593,788,593,812,'#333',0.4);
T(590,825,'ES',5.5,{transform:'rotate(-90 590 825)','text-anchor':'middle'});L(593,814,593,838,'#333',0.4);
</script>
</body></html>
